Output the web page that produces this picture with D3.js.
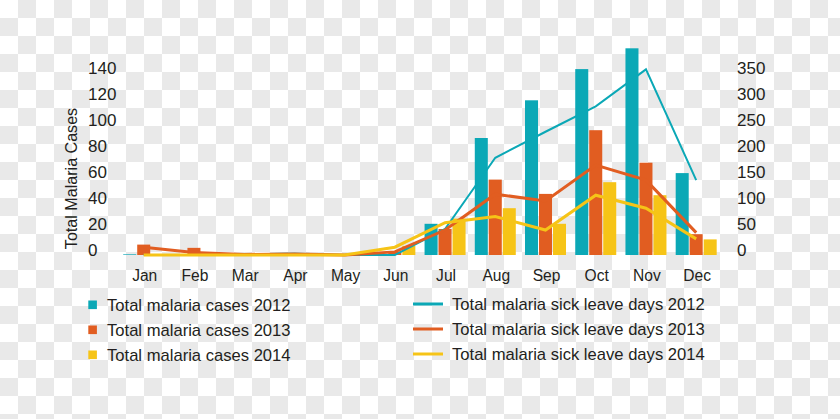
<!DOCTYPE html>
<html>
<head>
<meta charset="utf-8">
<script src="https://cdn.jsdelivr.net/npm/d3@7/dist/d3.min.js"></script>
<style>
  html, body { margin: 0; padding: 0; background: #fff; }
  svg { display: block; }
  text { font-family: "Liberation Sans", Arial, sans-serif; fill: #231f20; }
</style>
</head>
<body>
<svg id="chart" width="840" height="419"></svg>
<script>
// ---- data ----
const months = ["Jan","Feb","Mar","Apr","May","Jun","Jul","Aug","Sep","Oct","Nov","Dec"];
const cases2012 = [0.5, 0.3, 0.3, 1.5, 0.3, 0.5, 24, 90, 119, 143, 159, 63];
const cases2013 = [8, 5.5, 0.5, 0.5, 0.3, 2.5, 20, 58, 47, 96, 71, 16];
const cases2014 = [0.5, 0.5, 0.3, 0.3, 0.3, 7, 28, 36, 24, 56, 46, 12];
const leave2012 = [0, 0, 1, 3, 0, 0, 50, 187, 237, 286, 357, 144];
const leave2013 = [15, 5, 1, 2, 0, 6, 48, 117, 104, 173, 144, 43];
const leave2014 = [0, 0, 0, 0, 0, 15, 62, 74, 48, 115, 90, 31];
const leftTicks = [0, 20, 40, 60, 80, 100, 120, 140];
const rightTicks = [0, 50, 100, 150, 200, 250, 300, 350];
const barLabels = ["Total malaria cases 2012", "Total malaria cases 2013", "Total malaria cases 2014"];
const lineLabels = ["Total malaria sick leave days 2012", "Total malaria sick leave days 2013", "Total malaria sick leave days 2014"];
const yTitle = "Total Malaria Cases";

const colors = ["#0ba8b6", "#e15d21", "#f6c417"];
const barSeries = [cases2012, cases2013, cases2014];
const lineSeries = [leave2012, leave2013, leave2014];
const lineWidths = [2, 3, 3];

const svg = d3.select("#chart");

// checkerboard background (transparency pattern)
const defs = svg.append("defs");
const pat = defs.append("pattern").attr("id", "checker")
  .attr("width", 36).attr("height", 36).attr("patternUnits", "userSpaceOnUse");
pat.append("rect").attr("width", 36).attr("height", 36).attr("fill", "#ffffff");
pat.append("rect").attr("x", 18).attr("y", 0).attr("width", 18).attr("height", 18).attr("fill", "#e9e9e9");
pat.append("rect").attr("x", 0).attr("y", 18).attr("width", 18).attr("height", 18).attr("fill", "#e9e9e9");
svg.append("rect").attr("width", 840).attr("height", 419).attr("fill", "url(#checker)");

// scales
const x0 = d3.scaleBand().domain(months).range([118.6, 721.3]).padding(0);
const x1 = d3.scaleBand().domain([0, 1, 2]).range([-20.5, 20.5]).paddingInner(0.07);
const yL = d3.scaleLinear().domain([0, 140]).range([255, 73]);
const yR = d3.scaleLinear().domain([0, 350]).range([255, 73]);
const cx = m => x0(m) + x0.bandwidth() / 2;

// bars
barSeries.forEach((vals, si) => {
  svg.append("g").selectAll("rect").data(vals).join("rect")
    .attr("x", (d, i) => cx(months[i]) + x1(si))
    .attr("width", x1.bandwidth())
    .attr("y", d => yL(d))
    .attr("height", d => yL(0) - yL(d))
    .attr("fill", colors[si]);
});

// lines
lineSeries.forEach((vals, si) => {
  const line = d3.line().x((d, i) => cx(months[i])).y(d => yR(d));
  svg.append("path").datum(vals)
    .attr("d", line)
    .attr("fill", "none")
    .attr("stroke", colors[si])
    .attr("stroke-width", lineWidths[si])
    .attr("stroke-linejoin", "miter");
});

// left axis labels
svg.append("g").selectAll("text").data(leftTicks).join("text")
  .attr("x", 88).attr("y", d => yL(d) + 1.2)
  .attr("font-size", 17).attr("text-anchor", "start")
  .text(d => d);

// right axis labels
svg.append("g").selectAll("text").data(rightTicks).join("text")
  .attr("x", 737).attr("y", d => yR(d) + 1.2)
  .attr("font-size", 17).attr("text-anchor", "start")
  .text(d => d);

// month labels
svg.append("g").selectAll("text").data(months).join("text")
  .attr("x", d => cx(d) + 1).attr("y", 280.5)
  .attr("font-size", 15.6).attr("text-anchor", "middle")
  .text(d => d);

// y title
svg.append("text")
  .attr("transform", "translate(76.5,178.5) rotate(-90)")
  .attr("font-size", 16.1).attr("text-anchor", "middle")
  .text(yTitle);

// legend - bars
const lg1 = svg.append("g");
barLabels.forEach((t, i) => {
  const yb = 310.5 + i * 25;
  lg1.append("rect").attr("x", 88.3).attr("y", yb - 10).attr("width", 8.6).attr("height", 8.6).attr("fill", colors[i]);
  lg1.append("text").attr("x", 107).attr("y", yb).attr("font-size", 16.6).text(t);
});
// legend - lines
const lg2 = svg.append("g");
lineLabels.forEach((t, i) => {
  const yb = 310.3 + i * 25;
  lg2.append("line").attr("x1", 413).attr("x2", 443).attr("y1", yb - 6.3).attr("y2", yb - 6.3)
    .attr("stroke", colors[i]).attr("stroke-width", 3);
  lg2.append("text").attr("x", 452).attr("y", yb).attr("font-size", 16.6).text(t);
});
</script>
</body>
</html>
